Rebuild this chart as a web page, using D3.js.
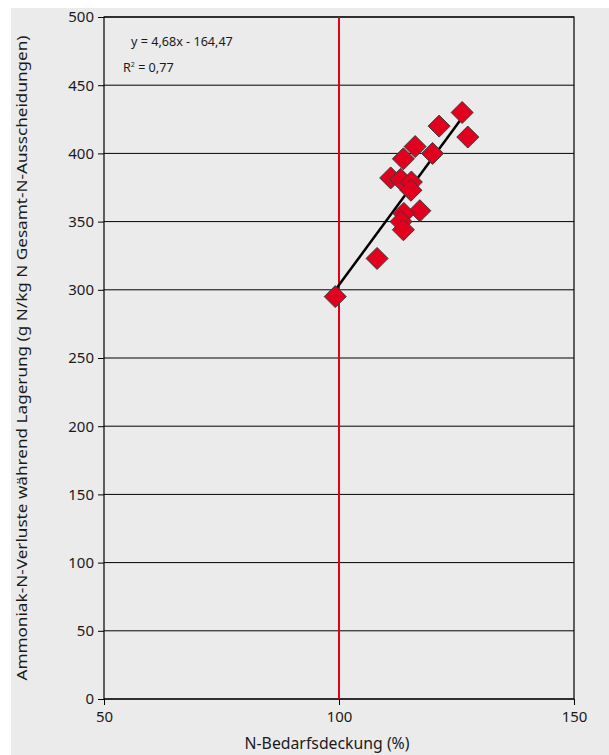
<!DOCTYPE html>
<html>
<head>
<meta charset="utf-8">
<script src="https://cdn.jsdelivr.net/npm/d3@7"></script>
<style>
  html, body { margin: 0; padding: 0; background: #fff; }
  svg { display: block; font-family: "Noto Sans", "Open Sans", sans-serif; }
</style>
</head>
<body>
<div id="chart"></div>
<script>
// N-Bedarfsdeckung (%) vs. Ammoniak-N-Verluste
const xValues = [99.2, 108.1, 126.2, 121.3, 127.4, 116.2, 119.9, 113.7, 111.0, 113.1, 115.4, 115.3, 117.2, 113.8, 113.2, 113.7];
const yValues = [295, 323, 430, 420, 412, 405, 400, 396, 382, 381, 379, 373, 358, 356, 350, 344];
const xTicks = [50, 100, 150];
const yTicks = [0, 50, 100, 150, 200, 250, 300, 350, 400, 450, 500];
const slope = 4.68, intercept = -164.47;
const refLine = 100;

const W = 609, H = 755;
const margin = { top: 17, right: 35, bottom: 56, left: 104 };
const width = W - margin.left - margin.right;
const height = H - margin.top - margin.bottom;

const svg = d3.select("#chart").append("svg")
  .attr("width", W).attr("height", H);

svg.append("rect")
  .attr("x", 11).attr("y", 8)
  .attr("width", W - 11).attr("height", H - 8)
  .attr("fill", "#ebebeb");

const g = svg.append("g").attr("transform", `translate(${margin.left},${margin.top})`);

const x = d3.scaleLinear().domain([50, 150]).range([0, width]);
const y = d3.scaleLinear().domain([0, 500]).range([height, 0]);

// gridlines
g.append("g")
  .selectAll("line")
  .data(yTicks)
  .join("line")
  .attr("x1", 0).attr("x2", width)
  .attr("y1", d => y(d)).attr("y2", d => y(d))
  .attr("stroke", "#000").attr("stroke-width", 1);

// frame
g.append("rect")
  .attr("width", width).attr("height", height)
  .attr("fill", "none").attr("stroke", "#000").attr("stroke-width", 1.2);

// axes
const yAxis = g.append("g")
  .call(d3.axisLeft(y).tickValues(yTicks).tickSize(6).tickPadding(4));
const xAxis = g.append("g")
  .attr("transform", `translate(0,${height})`)
  .call(d3.axisBottom(x).tickValues(xTicks).tickSize(6).tickPadding(6));
[xAxis, yAxis].forEach(a => {
  a.select(".domain").remove();
  a.selectAll("line").attr("stroke", "#000");
  a.selectAll("text").attr("fill", "#1a1a1a").attr("font-size", 15)
    .attr("font-family", "Noto Sans, sans-serif");
});

// reference line at 100 %
g.append("line")
  .attr("x1", x(refLine)).attr("x2", x(refLine))
  .attr("y1", 0).attr("y2", height)
  .attr("stroke", "#e2001a").attr("stroke-width", 2);

// regression line
const [xmin, xmax] = d3.extent(xValues);
g.append("line")
  .attr("x1", x(xmin)).attr("y1", y(slope * xmin + intercept))
  .attr("x2", x(xmax)).attr("y2", y(slope * xmax + intercept))
  .attr("stroke", "#000").attr("stroke-width", 2.5);

// points
const pts = xValues.map((v, i) => ({ x: v, y: yValues[i] }));
const r = 11;
g.append("g")
  .selectAll("path")
  .data(pts)
  .join("path")
  .attr("transform", d => `translate(${x(d.x)},${y(d.y)})`)
  .attr("d", `M0,${-r}L${r},0L0,${r}L${-r},0Z`)
  .attr("fill", "#e2001f")
  .attr("stroke", "#3a3a3a")
  .attr("stroke-width", 1);

// equation
const eq = g.append("g").attr("font-size", 12.6).attr("fill", "#1a1a1a");
eq.append("text").attr("x", 27).attr("y", 29).text("y = 4,68x - 164,47");
const r2 = eq.append("text").attr("x", 19).attr("y", 55);
r2.append("tspan").text("R");
r2.append("tspan").attr("font-size", 7).attr("dy", -5).text("2");
r2.append("tspan").attr("dy", 5).text(" = 0,77");

// axis titles
svg.append("text")
  .attr("x", margin.left + x(100) - 12).attr("y", 749)
  .attr("text-anchor", "middle")
  .attr("font-size", 15.8).attr("fill", "#1a1a1a")
  .text("N-Bedarfsdeckung (%)");

svg.append("text")
  .attr("transform", `translate(27,${margin.top + height / 2}) rotate(-90)`)
  .attr("text-anchor", "middle")
  .attr("font-size", 15).attr("fill", "#1a1a1a")
  .attr("textLength", 645).attr("lengthAdjust", "spacingAndGlyphs")
  .text("Ammoniak-N-Verluste während Lagerung (g N/kg N Gesamt-N-Ausscheidungen)");
</script>
</body>
</html>
